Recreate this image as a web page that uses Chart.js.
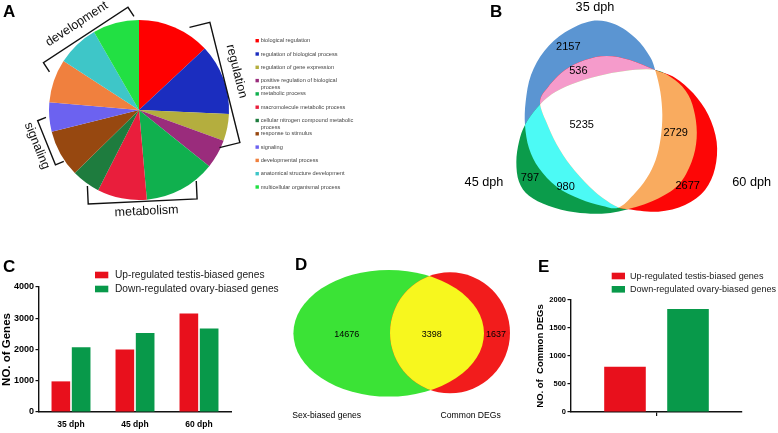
<!DOCTYPE html>
<html>
<head>
<meta charset="utf-8">
<script src="https://cdn.jsdelivr.net/npm/chart.js@4.4.0/dist/chart.umd.min.js"></script>
<style>
  body { margin: 0; background: #fff; width: 778px; height: 433px; position: relative; overflow: hidden; }
  canvas { position: absolute; }
  .tag { position: absolute; font: bold 17px "Liberation Sans", Arial, sans-serif; line-height: 17px; color: #000; }
</style>
</head>
<body>
<canvas id="pieA" width="380" height="220" style="left:0;top:0"></canvas>
<canvas id="vennB" width="338" height="220" style="left:440px;top:0"></canvas>
<canvas id="barC" width="290" height="208" style="left:0;top:225px"></canvas>
<canvas id="vennD" width="250" height="208" style="left:285px;top:225px"></canvas>
<canvas id="barE" width="248" height="208" style="left:530px;top:225px"></canvas>
<div class="tag" style="left:3px;top:3px">A</div>
<div class="tag" style="left:490px;top:3px">B</div>
<div class="tag" style="left:3px;top:258px">C</div>
<div class="tag" style="left:295px;top:256px">D</div>
<div class="tag" style="left:538px;top:258px">E</div>
<script>
// GO categories (slice shares read as degrees of the pie)
const goTerms = [
  'biological regulation', 'regulation of biological process', 'regulation of gene expression',
  'positive regulation of biological process', 'metabolic process', 'macromolecule metabolic process',
  'cellular nitrogen compound metabolic process', 'response to stimulus', 'signaling',
  'developmental process', 'anatomical structure development', 'multicellular organismal process'
];
const goShares = [47, 45.5, 17.5, 18.7, 46.3, 32, 18.5, 30.5, 19, 28, 27, 30];

// venn B
const stageSets = ['35 dph', '45 dph', '60 dph'];
const stageRegions = ['35 only', '35+60', 'all', '45+60', '60 only', '45 only', '35+45'];
const stageCounts = [2157, 536, 5235, 2729, 2677, 797, 980];

// bar C
const stages = ['35 dph', '45 dph', '60 dph'];
const upTestis = [980, 2000, 3150];
const downOvary = [2070, 2530, 2670];

// venn D
const overlapSets = ['Sex-biased genes', 'Common DEGs'];
const overlapCounts = [14676, 3398, 1637];

// bar E
const commonUp = [810];
const commonDown = [1840];
const seriesNames = ['Up-regulated testis-biased genes', 'Down-regulated ovary-biased genes'];

const FONT = '"Liberation Sans", Arial, sans-serif';
const goColors = ['#ff0000', '#1b2dbf', '#b4ae3e', '#9a2c7c', '#10b04e', '#e91e3c',
                  '#1e7c3e', '#974810', '#6c62f0', '#f0803e', '#3ec6c8', '#22e043'];
const barRed = '#e8101c', barGreen = '#08994a';

function wrap(ctx, text, maxW) {
  const lines = [];
  let cur = '';
  for (const w of text.split(' ')) {
    const t = cur ? cur + ' ' + w : w;
    if (cur && ctx.measureText(t).width > maxW) { lines.push(cur); cur = w; } else cur = t;
  }
  lines.push(cur);
  return lines;
}

function smoothClosed(ctx, q) {
  const n = q.length;
  ctx.beginPath();
  ctx.moveTo(q[0][0], q[0][1]);
  for (let i = 0; i < n; i++) {
    const p0 = q[(i - 1 + n) % n], p1 = q[i], p2 = q[(i + 1) % n], p3 = q[(i + 2) % n];
    ctx.bezierCurveTo(p1[0] + (p2[0] - p0[0]) / 6, p1[1] + (p2[1] - p0[1]) / 6,
                      p2[0] - (p3[0] - p1[0]) / 6, p2[1] - (p3[1] - p1[1]) / 6, p2[0], p2[1]);
  }
  ctx.closePath();
}

// ---------- A: pie with brackets and legend ----------
const brackets = [
  { text: 'regulation', angle: 76, gap: 0, from: -68, to: 56, hook: 21, off: 14, shift: -14 },
  { text: 'metabolism', angle: 177.4, gap: 1.5, from: -54, to: 55, hook: 18, off: 10, shift: -3 },
  { text: 'signaling', angle: 248, gap: 8, from: -19.5, to: 28, hook: 9, off: 10, shift: 5 },
  { text: 'development', angle: 326.8, gap: 2, from: -54, to: 47, hook: 11, off: 14, shift: -5 }
];

const pieDecor = {
  id: 'pieDecor',
  afterDraw(chart) {
    const ctx = chart.ctx;
    const arc = chart.getDatasetMeta(0).data[0];
    const cx = arc.x, cy = arc.y, R = arc.outerRadius;
    ctx.save();
    ctx.strokeStyle = '#111';
    ctx.fillStyle = '#111';
    ctx.lineWidth = 1.4;
    ctx.font = '12.5px ' + FONT;
    ctx.textAlign = 'center';
    ctx.textBaseline = 'middle';
    brackets.forEach(b => {
      const a = b.angle * Math.PI / 180;
      const n = [Math.sin(a), -Math.cos(a)], t = [Math.cos(a), Math.sin(a)];
      const d = R + b.gap;
      const p = (s, k) => [cx + n[0] * k + t[0] * s, cy + n[1] * k + t[1] * s];
      const h1 = p(b.from, d - b.hook), c1 = p(b.from, d), c2 = p(b.to, d), h2 = p(b.to, d - b.hook);
      ctx.beginPath();
      ctx.moveTo(h1[0], h1[1]);
      ctx.lineTo(c1[0], c1[1]);
      ctx.lineTo(c2[0], c2[1]);
      ctx.lineTo(h2[0], h2[1]);
      ctx.stroke();
      const tp = p(b.shift, d + b.off);
      ctx.save();
      ctx.translate(tp[0], tp[1]);
      ctx.rotate((b.angle - 180 * Math.round(b.angle / 180)) * Math.PI / 180);
      ctx.fillText(b.text, 0, 0);
      ctx.restore();
    });
    // legend
    ctx.font = '5.6px ' + FONT;
    ctx.textAlign = 'left';
    const ds = chart.data.datasets[0];
    chart.data.labels.forEach((lab, i) => {
      const y = 40.7 + i * 13.3;
      ctx.fillStyle = ds.backgroundColor[i];
      ctx.fillRect(255.5, y - 1.7, 3.4, 3.4);
      ctx.fillStyle = '#444';
      wrap(ctx, lab, 94.5).forEach((ln, j) => ctx.fillText(ln, 260.7, y + j * 7.2));
    });
    ctx.restore();
  }
};

new Chart(document.getElementById('pieA'), {
  type: 'pie',
  data: { labels: goTerms, datasets: [{ data: goShares, backgroundColor: goColors, borderWidth: 0 }] },
  options: {
    responsive: false, animation: false, events: [],
    layout: { padding: { left: 49, right: 151, top: 20, bottom: 20 } },
    plugins: { legend: { display: false }, tooltip: { enabled: false } }
  },
  plugins: [pieDecor]
});

// ---------- B: three-set venn ----------
const vennBShapes = {
  a: [[30,330],[32,260],[48,180],[88,108],[150,52],[230,18],[300,28],[362,70],[405,125],[422,170],[436,230],[442,300],[437,370],[422,435],[395,490],[355,540],[310,578],[260,572],[195,552],[125,515],[72,460],[42,400]],
  b: [[30,330],[12,380],[4,440],[12,500],[42,542],[100,572],[180,592],[260,596],[330,585],[420,555],[490,510],[530,440],[545,370],[540,300],[520,240],[480,195],[420,165],[330,168],[250,183],[170,208],[110,238],[65,280]],
  c: [[75,262],[100,215],[150,165],[210,135],[275,123],[345,135],[420,165],[480,188],[535,235],[580,300],[605,380],[600,460],[570,525],[510,570],[430,590],[340,583],[300,572],[240,530],[180,468],[135,405],[100,335]]
};
const vennBSpots = [[160,97],[190,168],[200,330],[482,353],[518,512],[45,490],[152,515]];
const vennBSetSpots = [[240,-23],[-93,503],[710,503]];

const vennB = {
  id: 'vennB',
  beforeDatasetsDraw(chart) {
    const ctx = chart.ctx, sx = chart.scales.x, sy = chart.scales.y;
    const path = k => smoothClosed(ctx, vennBShapes[k].map(([x, y]) => [sx.getPixelForValue(x), sy.getPixelForValue(y)]));
    const region = (color, clips, shape) => {
      ctx.save();
      clips.forEach(c => { path(c); ctx.clip(); });
      path(shape);
      ctx.fillStyle = color;
      ctx.fill();
      ctx.restore();
    };
    region('#5b95d2', [], 'a');
    region('#0b9c4b', [], 'b');
    region('#fd0606', [], 'c');
    region('#f59bcb', ['a'], 'c');
    region('#4cfaf5', ['a'], 'b');
    region('#f9ab5f', ['b'], 'c');
    region('#ffffff', ['a', 'b'], 'c');
  },
  afterDatasetsDraw(chart) {
    const ctx = chart.ctx, sx = chart.scales.x, sy = chart.scales.y;
    ctx.save();
    ctx.fillStyle = '#000';
    ctx.textAlign = 'center';
    ctx.textBaseline = 'middle';
    ctx.font = '11px ' + FONT;
    chart.getDatasetMeta(0).data.forEach((pt, i) => ctx.fillText(String(stageCounts[i]), pt.x, pt.y));
    ctx.font = '12.7px ' + FONT;
    stageSets.forEach((s, i) => {
      const [x, y] = vennBSetSpots[i];
      ctx.fillText(s, sx.getPixelForValue(x), sy.getPixelForValue(y));
    });
    ctx.restore();
  }
};

new Chart(document.getElementById('vennB'), {
  type: 'scatter',
  data: { labels: stageRegions, datasets: [{ data: vennBSpots.map(([x, y]) => ({ x, y })), pointRadius: 0 }] },
  options: {
    responsive: false, animation: false, events: [],
    layout: { padding: { left: 75, right: 53, top: 15, bottom: 5 } },
    plugins: { legend: { display: false }, tooltip: { enabled: false } },
    scales: {
      x: { type: 'linear', min: 0, max: 630, display: false },
      y: { type: 'linear', min: 0, max: 600, reverse: true, display: false }
    }
  },
  plugins: [vennB]
});

// ---------- C and E: grouped bars ----------
const pairLegend = {
  id: 'pairLegend',
  afterDraw(chart, args, o) {
    const ctx = chart.ctx;
    ctx.save();
    ctx.font = o.font + ' ' + FONT;
    ctx.textBaseline = 'middle';
    ctx.textAlign = 'left';
    chart.data.datasets.forEach((ds, i) => {
      const y = o.y + i * o.step;
      ctx.fillStyle = ds.backgroundColor;
      ctx.fillRect(o.x, y - 3.3, 13.3, 6.6);
      ctx.fillStyle = '#1a1a1a';
      ctx.fillText(ds.label, o.text, y);
    });
    ctx.restore();
  }
};

function barPanel(id, labels, up, down, o) {
  return new Chart(document.getElementById(id), {
    type: 'bar',
    data: {
      labels,
      datasets: [
        { label: seriesNames[0], data: up, backgroundColor: barRed, categoryPercentage: o.cat, barPercentage: o.bar },
        { label: seriesNames[1], data: down, backgroundColor: barGreen, categoryPercentage: o.cat, barPercentage: o.bar }
      ]
    },
    options: {
      responsive: false, animation: false, events: [],
      layout: { padding: o.pad },
      plugins: { legend: { display: false }, tooltip: { enabled: false }, pairLegend: o.legend },
      scales: {
        x: {
          grid: o.xgrid,
          border: { color: '#111', width: 1.4 },
          ticks: { color: '#000', font: { family: FONT, size: 8.5, weight: 'bold' }, padding: 8, maxRotation: 0 },
          afterFit: s => { s.height = 21; }
        },
        y: {
          min: 0, max: o.max,
          ticks: { stepSize: o.step, format: { useGrouping: false }, color: '#000', font: { family: FONT, size: o.tick, weight: 'bold' }, padding: 1.5 },
          grid: { drawOnChartArea: false, tickLength: 3.5, color: '#111', lineWidth: 1.2 },
          border: { color: '#111', width: 1.4 },
          title: { display: true, text: o.title, color: '#000', font: { family: FONT, size: o.tsize, weight: 'bold' }, padding: { top: o.tpad, bottom: 0 } },
          afterFit: s => { s.width = o.yw; }
        }
      }
    },
    plugins: [pairLegend]
  });
}

barPanel('barC', stages, upTestis, downOvary, {
  cat: 0.634, bar: 0.92, max: 4000, step: 1000, tick: 9, title: 'NO. of Genes', tsize: 11.5, tpad: 0, yw: 39,
  pad: { left: 0, right: 59, top: 62, bottom: 0 },
  xgrid: { display: false, drawTicks: false },
  legend: { x: 95, y: 50, step: 14, text: 115, font: '10.2px' }
});

barPanel('barE', [''], commonUp, commonDown, {
  cat: 0.737, bar: 0.66, max: 2000, step: 500, tick: 7.5, title: 'NO. of  Common DEGs', tsize: 9.5, tpad: 4.3, yw: 41,
  pad: { left: 0, right: 36, top: 75, bottom: 0 },
  xgrid: { display: true, drawOnChartArea: false, drawTicks: true, tickLength: 4, offset: false, color: '#111', lineWidth: 1.2 },
  legend: { x: 81.7, y: 51, step: 13.3, text: 100, font: '9.1px' }
});

// ---------- D: two-set venn ----------
const vennDShapes = { sex: [388.7, 333.3, 95.3, 63.3], common: [450, 332.8, 60, 60.5] };
const vennDSpots = [[346.7, 334.3], [431.7, 334.3], [496, 334.3]];
const vennDSetSpots = [[326.7, 415.7], [470.7, 415.7]];

const vennD = {
  id: 'vennD',
  beforeDatasetsDraw(chart) {
    const ctx = chart.ctx, sx = chart.scales.x, sy = chart.scales.y;
    const path = k => {
      const [x, y, rx, ry] = vennDShapes[k];
      const px = sx.getPixelForValue(x), py = sy.getPixelForValue(y);
      ctx.beginPath();
      ctx.ellipse(px, py, Math.abs(sx.getPixelForValue(x + rx) - px), Math.abs(sy.getPixelForValue(y + ry) - py), 0, 0, Math.PI * 2);
    };
    ctx.save();
    path('sex'); ctx.fillStyle = '#3be336'; ctx.fill();
    path('common'); ctx.fillStyle = '#f21c1c'; ctx.fill();
    path('sex'); ctx.clip();
    path('common'); ctx.fillStyle = '#f7f71e'; ctx.fill();
    ctx.restore();
  },
  afterDatasetsDraw(chart) {
    const ctx = chart.ctx, sx = chart.scales.x, sy = chart.scales.y;
    ctx.save();
    ctx.fillStyle = '#000';
    ctx.textAlign = 'center';
    ctx.textBaseline = 'middle';
    ctx.font = '9px ' + FONT;
    chart.getDatasetMeta(0).data.forEach((pt, i) => ctx.fillText(String(overlapCounts[i]), pt.x, pt.y));
    ctx.font = '8.6px ' + FONT;
    overlapSets.forEach((s, i) => {
      const [x, y] = vennDSetSpots[i];
      ctx.fillText(s, sx.getPixelForValue(x), sy.getPixelForValue(y));
    });
    ctx.restore();
  }
};

new Chart(document.getElementById('vennD'), {
  type: 'scatter',
  data: { datasets: [{ data: vennDSpots.map(([x, y]) => ({ x, y })), pointRadius: 0 }] },
  options: {
    responsive: false, animation: false, events: [],
    layout: { padding: 0 },
    plugins: { legend: { display: false }, tooltip: { enabled: false } },
    scales: {
      x: { type: 'linear', min: 285, max: 535, display: false },
      y: { type: 'linear', min: 225, max: 433, reverse: true, display: false }
    }
  },
  plugins: [vennD]
});
</script>
</body>
</html>
